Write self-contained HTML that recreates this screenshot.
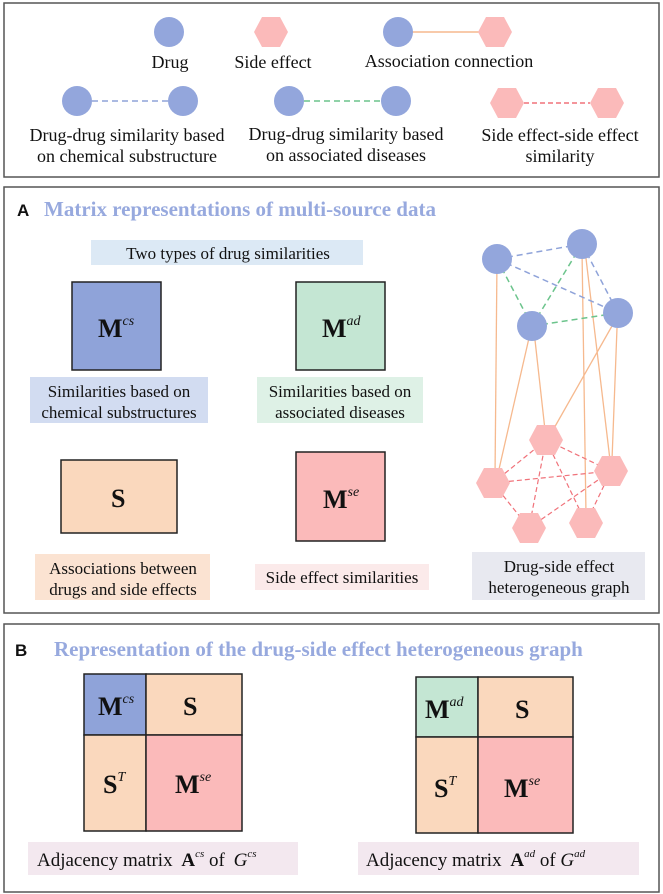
<!DOCTYPE html>
<html><head><meta charset="utf-8"><style>
html,body{margin:0;padding:0;background:#fff}
svg{display:block}
text{font-family:"Liberation Serif",serif;fill:#111}
</style></head><body>
<svg width="663" height="894" viewBox="0 0 663 894" xmlns="http://www.w3.org/2000/svg">
<!-- Legend -->
<rect x="4" y="3" width="655" height="174" fill="#fff" stroke="#555" stroke-width="1.5"/>
<line x1="410" y1="32" x2="482" y2="32" stroke="#f6b98e" stroke-width="1.5"/>
<line x1="92" y1="101" x2="168" y2="101" stroke="#8fa3d9" stroke-width="1.5" stroke-dasharray="6,4"/>
<line x1="304" y1="101" x2="381" y2="101" stroke="#6cc48c" stroke-width="1.5" stroke-dasharray="6,4"/>
<line x1="524" y1="103" x2="590" y2="103" stroke="#f0727a" stroke-width="1.5" stroke-dasharray="5,3"/>
<g fill="#93a6dc">
<circle cx="169" cy="32" r="15"/>
<circle cx="398" cy="32" r="15"/>
<circle cx="77" cy="101" r="15"/>
<circle cx="183" cy="101" r="15"/>
<circle cx="289" cy="101" r="15"/>
<circle cx="396" cy="101" r="15"/>
</g>
<g fill="#fbbaba">
<polygon points="254,32 262,17 280,17 288,32 280,47 262,47"/>
<polygon points="478,32 486,17 504,17 512,32 504,47 486,47"/>
<polygon points="490,103 498,88 516,88 524,103 516,118 498,118"/>
<polygon points="590,103 598,88 616,88 624,103 616,118 598,118"/>
</g>
<g font-size="18" text-anchor="middle">
<text x="170" y="68">Drug</text>
<text x="273" y="68">Side effect</text>
<text x="449" y="67">Association connection</text>
<text x="127" y="141">Drug-drug similarity based</text>
<text x="127" y="162">on chemical substructure</text>
<text x="346" y="140">Drug-drug similarity based</text>
<text x="346" y="161">on associated diseases</text>
<text x="560" y="141">Side effect-side effect</text>
<text x="560" y="162">similarity</text>
</g>

<!-- Panel A -->
<rect x="4" y="187" width="655" height="426" fill="#fff" stroke="#555" stroke-width="1.5"/>
<text x="17" y="216" font-weight="bold" font-size="17" style="font-family:'Liberation Sans',sans-serif">A</text>
<text x="44" y="216" font-size="21" font-weight="bold" style="fill:#97a9de">Matrix representations of multi-source data</text>
<rect x="91" y="240" width="272" height="25" fill="#dce9f5"/>
<text x="228" y="259" font-size="17" text-anchor="middle">Two types of drug similarities</text>
<rect x="72" y="282" width="89" height="88" fill="#8fa3d9" stroke="#222" stroke-width="1.5"/>
<rect x="296" y="282" width="89" height="88" fill="#c4e6d3" stroke="#222" stroke-width="1.5"/>
<rect x="61" y="460" width="116" height="73" fill="#fad8bd" stroke="#222" stroke-width="1.5"/>
<rect x="296" y="452" width="89" height="89" fill="#fbbaba" stroke="#222" stroke-width="1.5"/>
<g font-weight="bold" font-size="26">
<text x="98" y="337">M<tspan font-size="14" font-style="italic" font-weight="normal" dy="-12">cs</tspan></text>
<text x="322" y="337">M<tspan font-size="14" font-style="italic" font-weight="normal" dy="-12">ad</tspan></text>
<text x="111" y="507">S</text>
<text x="323" y="508">M<tspan font-size="14" font-style="italic" font-weight="normal" dy="-12">se</tspan></text>
</g>
<rect x="30" y="377" width="178" height="46" fill="#d2dcf1"/>
<rect x="257" y="377" width="166" height="46" fill="#def1e6"/>
<rect x="35" y="554" width="175" height="46" fill="#fbe3d2"/>
<rect x="255" y="564" width="174" height="26" fill="#fbeaea"/>
<g font-size="17" text-anchor="middle">
<text x="119" y="397">Similarities based on</text>
<text x="119" y="418">chemical substructures</text>
<text x="340" y="397">Similarities based on</text>
<text x="340" y="418">associated diseases</text>
<text x="123" y="574">Associations between</text>
<text x="123" y="595">drugs and side effects</text>
<text x="342" y="583">Side effect similarities</text>
</g>

<!-- graph -->
<g stroke="#f6b98e" stroke-width="1.3">
<line x1="497" y1="259" x2="495" y2="478"/>
<line x1="529" y1="338" x2="497" y2="478"/>
<line x1="535" y1="340" x2="545" y2="430"/>
<line x1="612" y1="326" x2="553" y2="430"/>
<line x1="617" y1="328" x2="612" y2="460"/>
<line x1="582" y1="250" x2="586" y2="515"/>
<line x1="585" y1="250" x2="610" y2="460"/>
</g>
<g stroke="#8fa3d9" stroke-width="1.5" stroke-dasharray="6,4">
<line x1="497" y1="259" x2="582" y2="244"/>
<line x1="497" y1="259" x2="618" y2="313"/>
<line x1="582" y1="244" x2="618" y2="313"/>
</g>
<g stroke="#6cc48c" stroke-width="1.5" stroke-dasharray="6,4">
<line x1="497" y1="259" x2="532" y2="326"/>
<line x1="582" y1="244" x2="532" y2="326"/>
<line x1="532" y1="326" x2="618" y2="313"/>
</g>
<g stroke="#f0727a" stroke-width="1.2" stroke-dasharray="5,3">
<line x1="546" y1="440" x2="493" y2="483"/>
<line x1="546" y1="440" x2="611" y2="471"/>
<line x1="546" y1="440" x2="529" y2="528"/>
<line x1="546" y1="440" x2="586" y2="523"/>
<line x1="493" y1="483" x2="611" y2="471"/>
<line x1="493" y1="483" x2="529" y2="528"/>
<line x1="611" y1="471" x2="529" y2="528"/>
<line x1="611" y1="471" x2="586" y2="523"/>
</g>
<g fill="#93a6dc">
<circle cx="497" cy="259" r="15"/>
<circle cx="582" cy="244" r="15"/>
<circle cx="532" cy="326" r="15"/>
<circle cx="618" cy="313" r="15"/>
</g>
<g fill="#fbbaba">
<polygon points="529,440 537,425 555,425 563,440 555,455 537,455"/>
<polygon points="476,483 484,468 502,468 510,483 502,498 484,498"/>
<polygon points="594,471 602,456 620,456 628,471 620,486 602,486"/>
<polygon points="512,528 520,513 538,513 546,528 538,543 520,543"/>
<polygon points="569,523 577,508 595,508 603,523 595,538 577,538"/>
</g>
<rect x="472" y="552" width="173" height="48" fill="#e8e9f0"/>
<g font-size="17" text-anchor="middle">
<text x="559" y="572">Drug-side effect</text>
<text x="559" y="593">heterogeneous graph</text>
</g>

<!-- Panel B -->
<rect x="4" y="624" width="655" height="268" fill="#fff" stroke="#555" stroke-width="1.5"/>
<text x="15" y="656" font-weight="bold" font-size="17" style="font-family:'Liberation Sans',sans-serif">B</text>
<text x="54" y="656" font-size="21" font-weight="bold" style="fill:#97a9de">Representation of the drug-side effect heterogeneous graph</text>
<g stroke="#222" stroke-width="1.5">
<rect x="84" y="674" width="62" height="61" fill="#8fa3d9"/>
<rect x="146" y="674" width="96" height="61" fill="#fad8bd"/>
<rect x="84" y="735" width="62" height="96" fill="#fad8bd"/>
<rect x="146" y="735" width="96" height="96" fill="#fbbaba"/>
<rect x="416" y="677" width="62" height="60" fill="#c4e6d3"/>
<rect x="478" y="677" width="95" height="60" fill="#fad8bd"/>
<rect x="416" y="737" width="62" height="96" fill="#fad8bd"/>
<rect x="478" y="737" width="95" height="96" fill="#fbbaba"/>
</g>
<g font-weight="bold" font-size="26">
<text x="98" y="715">M<tspan font-size="14" font-style="italic" font-weight="normal" dy="-12">cs</tspan></text>
<text x="183" y="715">S</text>
<text x="103" y="793">S<tspan font-size="14" font-style="italic" font-weight="normal" dy="-12">T</tspan></text>
<text x="175" y="793">M<tspan font-size="14" font-style="italic" font-weight="normal" dy="-12">se</tspan></text>
<text x="425" y="718">M<tspan font-size="14" font-style="italic" font-weight="normal" dy="-12">ad</tspan></text>
<text x="515" y="718">S</text>
<text x="434" y="797">S<tspan font-size="14" font-style="italic" font-weight="normal" dy="-12">T</tspan></text>
<text x="504" y="797">M<tspan font-size="14" font-style="italic" font-weight="normal" dy="-12">se</tspan></text>
</g>
<rect x="28" y="842" width="270" height="33" fill="#f3e8ef"/>
<rect x="358" y="842" width="281" height="33" fill="#f3e8ef"/>
<g font-size="19">
<text x="37" y="866">Adjacency matrix <tspan font-weight="bold" dx="4">A</tspan><tspan font-size="11" font-style="italic" dy="-9">cs</tspan><tspan dy="9"> of </tspan><tspan font-style="italic" dx="4">G</tspan><tspan font-size="11" font-style="italic" dy="-9">cs</tspan></text>
<text x="366" y="866">Adjacency matrix <tspan font-weight="bold" dx="4">A</tspan><tspan font-size="11" font-style="italic" dy="-9">ad</tspan><tspan dy="9"> of </tspan><tspan font-style="italic">G</tspan><tspan font-size="11" font-style="italic" dy="-9">ad</tspan></text>
</g>
</svg>
</body></html>
